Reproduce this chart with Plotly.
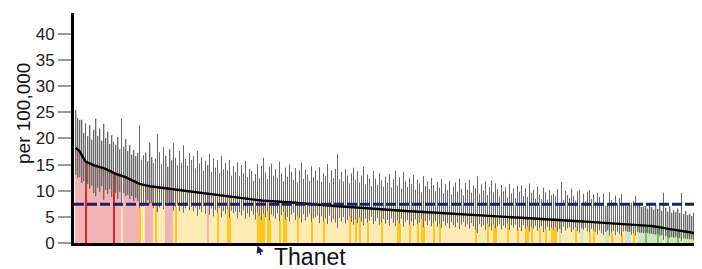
import plotly.graph_objects as go

# ---------------- data ----------------
england_rate = 7.4

values = [
    18.2, 17.9, 17.6, 16.9, 16.3, 15.6, 15.4, 15.3, 15.1, 14.9,
    14.8, 14.7, 14.6, 14.5, 14.4, 14.2, 14.0, 13.8, 13.6, 13.4,
    13.2, 13.1, 13.0, 12.9, 12.8, 12.6, 12.4, 12.2, 12.0, 11.8,
    11.6, 11.5, 11.3, 11.2, 11.1, 11.0, 10.9, 10.85, 10.8, 10.75,
    10.7, 10.65, 10.6, 10.5, 10.45, 10.4, 10.35, 10.3, 10.25, 10.2,
    10.15, 10.1, 10.05, 10.0, 9.95, 9.9, 9.85, 9.8, 9.75, 9.7,
    9.65, 9.6, 9.55, 9.5, 9.45, 9.4, 9.35, 9.3, 9.27, 9.23,
    9.2, 9.15, 9.1, 9.05, 9.0, 8.95, 8.9, 8.85, 8.8, 8.75,
    8.7, 8.65, 8.6, 8.55, 8.5, 8.45, 8.4, 8.35, 8.28, 8.2,
    8.18, 8.16, 8.14, 8.12, 8.1, 8.08, 8.06, 8.04, 8.02, 8.0,
    7.98, 7.96, 7.94, 7.92, 7.9, 7.9, 7.9, 7.85, 7.8, 7.75,
    7.7, 7.66, 7.62, 7.58, 7.55, 7.52, 7.49, 7.46, 7.43, 7.4,
    7.37, 7.34, 7.31, 7.28, 7.25, 7.22, 7.19, 7.16, 7.13, 7.1,
    7.07, 7.04, 7.01, 6.98, 6.95, 6.92, 6.9, 6.87, 6.84, 6.81,
    6.78, 6.75, 6.72, 6.69, 6.66, 6.63, 6.6, 6.57, 6.54, 6.5,
    6.48, 6.46, 6.43, 6.41, 6.39, 6.36, 6.34, 6.32, 6.29, 6.27,
    6.25, 6.22, 6.2, 6.18, 6.15, 6.13, 6.11, 6.08, 6.06, 6.04,
    6.01, 5.99, 5.97, 5.94, 5.92, 5.9, 5.87, 5.85, 5.83, 5.8,
    5.78, 5.75, 5.73, 5.7, 5.68, 5.65, 5.63, 5.6, 5.58, 5.56,
    5.54, 5.52, 5.5, 5.48, 5.46, 5.44, 5.42, 5.4, 5.38, 5.36,
    5.34, 5.32, 5.3, 5.28, 5.26, 5.24, 5.22, 5.2, 5.18, 5.16,
    5.14, 5.12, 5.1, 5.08, 5.06, 5.04, 5.02, 5.0, 4.98, 4.96,
    4.93, 4.91, 4.89, 4.87, 4.85, 4.83, 4.81, 4.78, 4.76, 4.74,
    4.72, 4.7, 4.68, 4.65, 4.63, 4.61, 4.58, 4.55, 4.53, 4.5,
    4.48, 4.45, 4.42, 4.4, 4.37, 4.35, 4.32, 4.29, 4.27, 4.24,
    4.22, 4.19, 4.16, 4.14, 4.11, 4.08, 4.06, 4.03, 4.0, 3.98,
    3.95, 3.93, 3.9, 3.88, 3.85, 3.83, 3.8, 3.78, 3.75, 3.73,
    3.7, 3.68, 3.65, 3.63, 3.6, 3.58, 3.55, 3.53, 3.5, 3.48,
    3.45, 3.43, 3.4, 3.38, 3.35, 3.33, 3.3, 3.27, 3.24, 3.2,
    3.16, 3.12, 3.08, 3.0, 2.9, 2.8, 2.7, 2.63, 2.6, 2.55,
    2.5, 2.45, 2.4, 2.35, 2.3, 2.25, 2.2, 2.1, 2.0, 1.9,
    1.8, 1.75, 1.65, 1.55,
]

upper_ci = [
    25.4, 23.9, 23.5, 23.6, 21.0, 22.9, 20.4, 22.6, 19.8, 21.7,
    23.8, 20.5, 21.9, 19.6, 22.8, 20.1, 21.3, 18.9, 20.6, 19.4,
    18.8, 20.3, 17.9, 23.8, 18.4, 19.9, 17.6, 18.7, 16.9, 17.8,
    16.6, 17.2, 22.5, 15.9, 16.8, 17.3, 15.6, 19.2, 16.4, 15.3,
    16.2, 20.9, 17.4, 15.1, 18.3, 16.7, 14.6, 17.9, 15.8, 19.1,
    16.3, 14.9, 17.6, 15.4, 18.7, 16.1, 14.8, 17.2, 15.9, 16.6,
    14.3, 17.6, 15.2, 16.4, 13.8, 15.7, 14.9, 17.1, 13.6, 16.2,
    14.4, 15.8, 13.4, 16.7, 14.1, 15.3, 13.9, 15.9, 12.9, 14.7,
    13.6, 15.4, 12.8, 14.9, 13.3, 15.7, 12.6, 14.2, 13.8, 11.9,
    13.2, 15.1, 12.4, 14.8, 16.3, 13.5, 12.2, 14.6, 15.2, 12.9,
    14.1, 12.5, 15.6, 13.3, 11.8, 14.4, 12.7, 15.0, 13.6, 12.1,
    14.3, 11.6, 13.9, 15.4, 12.3, 14.0, 13.1, 11.9, 14.7, 12.6,
    13.8, 12.0, 14.5, 11.7, 13.4, 12.8, 15.1, 11.5, 13.9, 12.4,
    14.2, 17.0, 12.2, 13.6, 11.8, 14.1, 12.9, 11.4, 13.3, 14.4,
    12.1, 13.7, 11.6, 12.9, 14.6, 11.2, 13.1, 12.4, 10.9, 13.8,
    12.3, 11.1, 13.4, 12.0, 10.8, 12.7, 11.5, 13.2, 10.6, 12.2,
    13.8, 11.0, 12.6, 10.4, 13.6, 11.9, 10.7, 12.5, 11.3, 13.0,
    10.2, 12.1, 11.4, 9.7, 12.8, 10.9, 11.8, 10.3, 12.4, 11.1,
    9.9, 11.7, 10.6, 12.2, 9.5, 11.3, 10.1, 11.9, 9.3, 10.8,
    11.6, 9.8, 12.3, 10.4, 9.1, 11.5, 10.2, 12.1, 9.6, 11.0,
    10.5, 12.7, 9.4, 11.2, 10.0, 11.8, 9.2, 10.7, 12.0, 9.7,
    11.4, 10.3, 8.9, 11.1, 9.9, 10.6, 8.7, 11.3, 9.5, 10.4,
    8.6, 10.9, 9.8, 11.0, 9.0, 10.5, 8.8, 11.4, 9.6, 10.2,
    8.5, 10.8, 9.3, 8.4, 10.6, 9.7, 8.3, 10.1, 9.1, 9.4,
    8.9, 10.3, 7.2, 11.7, 8.2, 10.0, 9.2, 8.6, 10.4, 9.0,
    8.1, 9.9, 10.2, 7.0, 9.4, 8.0, 9.8, 10.1, 8.4, 9.3,
    7.9, 9.6, 8.8, 7.6, 9.5, 7.1, 7.3, 9.7, 8.2, 7.8,
    9.1, 7.6, 8.6, 9.4, 7.5, 7.1, 7.0, 7.2, 7.7, 8.0,
    9.0, 7.3, 7.2, 6.9, 7.0, 7.1, 6.6, 7.2, 6.8, 6.4,
    7.2, 6.5, 7.0, 6.2, 9.6, 6.7, 6.0, 7.0, 5.8, 6.3,
    5.9, 6.6, 5.7, 9.6, 5.5, 6.1, 5.3, 5.6, 5.2, 5.8,
    4.9, 10.0, 5.1, 4.7,
]

lower_ci = [
    13.1, 12.4, 12.6, 11.5, 11.8, 10.2, 11.3, 10.4, 11.0, 9.6,
    8.9, 10.6, 9.8, 10.9, 8.3, 10.1, 9.4, 10.3, 8.8, 9.9,
    9.6, 8.4, 9.8, 7.0, 9.5, 8.9, 9.2, 8.5, 9.0, 8.1,
    8.7, 8.0, 6.6, 6.9, 7.0, 7.6, 8.2, 7.5, 7.7, 6.7,
    7.2, 5.9, 6.8, 7.3, 6.5, 7.6, 7.8, 7.5, 7.6, 6.2,
    6.9, 7.3, 6.1, 7.0, 5.8, 6.6, 7.2, 6.3, 6.9, 6.0,
    6.8, 5.2, 6.4, 5.9, 7.0, 5.6, 7.5, 5.4, 6.6, 5.1,
    6.3, 5.8, 6.7, 4.9, 6.1, 5.5, 6.5, 4.8, 6.2, 5.7,
    6.0, 4.7, 5.9, 5.3, 6.2, 4.6, 5.7, 5.0, 6.1, 5.4,
    4.5, 5.8, 5.2, 4.4, 5.6, 4.9, 6.0, 4.3, 5.5, 5.1,
    4.6, 5.7, 4.2, 5.3, 5.9, 4.5, 5.0, 4.1, 5.4, 5.8,
    4.4, 5.2, 4.8, 3.9, 5.5, 4.3, 5.0, 5.6, 4.0, 4.7,
    4.9, 5.3, 3.8, 5.1, 4.2, 4.7, 3.6, 5.2, 4.0, 4.6,
    3.9, 2.9, 4.8, 4.1, 5.0, 3.7, 4.4, 5.1, 4.0, 3.5,
    4.5, 3.8, 4.9, 4.1, 3.4, 4.7, 3.9, 4.3, 5.0, 3.6,
    4.2, 4.8, 3.5, 4.0, 4.6, 3.7, 4.4, 3.3, 4.7, 3.9,
    3.2, 4.3, 3.7, 4.6, 3.1, 4.0, 4.4, 3.5, 4.1, 3.3,
    4.5, 3.6, 3.9, 4.6, 3.0, 4.2, 3.4, 4.3, 3.2, 3.8,
    4.2, 3.1, 3.7, 2.9, 4.1, 3.3, 3.8, 2.8, 4.0, 3.4,
    3.0, 3.9, 2.7, 3.5, 4.0, 3.1, 3.6, 2.8, 3.8, 3.2,
    2.6, 1.9, 3.6, 3.0, 3.4, 2.5, 3.7, 3.1, 2.4, 3.5,
    2.8, 3.2, 3.6, 2.6, 3.3, 2.9, 3.7, 2.5, 3.4, 3.0,
    3.5, 2.4, 3.0, 2.3, 3.4, 2.7, 3.2, 2.2, 3.1, 2.8,
    3.3, 2.3, 2.9, 3.2, 2.1, 2.7, 3.1, 2.4, 2.9, 2.6,
    3.0, 2.2, 2.7, 1.9, 3.1, 2.4, 2.8, 3.0, 2.1, 2.6,
    3.0, 2.3, 2.0, 2.8, 2.5, 2.9, 2.2, 2.0, 2.7, 2.4,
    2.1, 1.6, 2.4, 1.9, 1.5, 2.2, 2.4, 1.4, 2.0, 2.3,
    1.5, 2.1, 1.7, 1.3, 2.2, 2.3, 2.2, 2.1, 1.6, 1.9,
    1.4, 2.1, 2.0, 2.0, 1.9, 2.0, 1.9, 1.8, 1.8, 1.7,
    1.6, 1.7, 1.4, 1.5, 0.6, 1.3, 1.2, 1.0, 1.2, 1.0,
    1.1, 0.9, 1.0, 0.4, 0.9, 0.8, 0.8, 0.7, 0.7, 0.5,
    0.6, 0.2, 0.4, 0.3,
]

# areas in the highlighted region (by rank position)
highlight_idx = [5, 19, 32, 40, 50, 71, 76, 77, 91, 92, 93, 94, 96, 97, 102,
                 104, 105, 111, 118, 124, 137, 140, 142, 146, 153, 161, 162,
                 167, 171, 173, 174, 179, 182, 200, 206, 209, 210, 216, 221,
                 225, 226, 228, 232, 235, 238, 239, 240, 250, 257, 259, 268,
                 273, 279, 285, 291, 296, 301]
label_idx = 91
label_text = "Thanet"
y_ticks = [0, 5, 10, 15, 20, 25, 30, 35, 40]
y_title = "per 100,000"

# ---------------- build ----------------
n = len(values)
assert len(upper_ci) == n and len(lower_ci) == n
x = list(range(n))
hl = set(highlight_idx)

palette = {
    ("H", False): "#f3b4b7", ("H", True): "#e3232d",
    ("S", False): "#feeab3", ("S", True): "#ffc61f",
    ("L", False): "#cfe6bf", ("L", True): "#7fbf5c",
}
bar_colors, ci_colors = [], []
for i in x:
    if lower_ci[i] > england_rate:
        comp = "H"
    elif upper_ci[i] < england_rate:
        comp = "L"
    else:
        comp = "S"
    bar_colors.append(palette[(comp, i in hl)])
    if comp == "S":
        ci_colors.append("rgba(255,255,255,0.5)")
    elif i in hl and comp == "H":
        ci_colors.append("rgba(0,0,0,0)")
    else:
        ci_colors.append("rgba(110,110,110,0.35)")

fig = go.Figure()
fig.add_trace(go.Bar(x=x, y=values, marker=dict(color=bar_colors, line=dict(width=0)),
                     hoverinfo="skip"))
fig.add_trace(go.Bar(x=x, y=[u - l for u, l in zip(upper_ci, lower_ci)], base=lower_ci,
                     marker=dict(color=ci_colors, line=dict(width=0)), hoverinfo="skip"))
fig.add_trace(go.Scatter(
    x=x, y=values, mode="markers", marker=dict(size=1, opacity=0),
    error_y=dict(type="data", symmetric=False,
                 array=[u - v for u, v in zip(upper_ci, values)],
                 arrayminus=[v - l for v, l in zip(values, lower_ci)],
                 color="#6a6a6a", thickness=1, width=0),
    hoverinfo="skip"))
fig.add_trace(go.Scatter(x=x, y=values, mode="lines",
                         line=dict(color="#000000", width=2.4), hoverinfo="skip"))

fig.add_shape(type="line", xref="paper", x0=0, x1=1, yref="y",
              y0=england_rate, y1=england_rate,
              line=dict(color="#1c2162", width=3, dash="10px,3px"), layer="above")

# page body has an 8px margin: figure is 694x261 and starts at (8, 8)
W, H = 694, 261
ML, MT, MB = 66, 5, 26
PW, PH = W - ML, H - MT - MB


def px_x(px):  # window pixel -> paper x
    return (px - 8 - ML) / PW


def px_y(py):  # window pixel -> paper y
    return (8 + MT + PH - py) / PH


font_family = "Liberation Sans, Arial, sans-serif"
fig.add_annotation(xref="paper", yref="paper", x=px_x(23), y=px_y(114), text=y_title,
                   textangle=-90, showarrow=False, xanchor="center", yanchor="middle",
                   font=dict(size=19, color="#111111", family=font_family))
fig.add_annotation(xref="x", yref="paper", x=label_idx, y=px_y(245.5), ax=4, ay=11,
                   text="", showarrow=True, arrowhead=2, arrowsize=1, arrowwidth=1.5,
                   arrowcolor="#1c2162")
fig.add_annotation(xref="paper", yref="paper", x=px_x(272), y=px_y(257),
                   text=label_text, showarrow=False, xanchor="left", yanchor="middle",
                   font=dict(size=23, color="#111111", family=font_family))

fig.update_layout(
    width=W, height=H,
    margin=dict(l=ML, r=0, t=MT, b=MB, pad=0),
    paper_bgcolor="white", plot_bgcolor="white",
    barmode="overlay", bargap=0, showlegend=False,
    font=dict(family=font_family, color="#222222", size=17),
)
fig.update_xaxes(range=[-0.75, n - 0.75], showticklabels=False, ticks="",
                 showgrid=False, zeroline=False, showline=True,
                 linecolor="#000000", linewidth=3)
fig.update_yaxes(range=[0, 44], tickvals=y_ticks, ticks="outside", ticklen=13,
                 tickcolor="#999999", tickwidth=1.5, showgrid=False, zeroline=False,
                 showline=True, linecolor="#000000", linewidth=3,
                 tickfont=dict(size=17, color="#222222"))

fig.write_html("out.html")
